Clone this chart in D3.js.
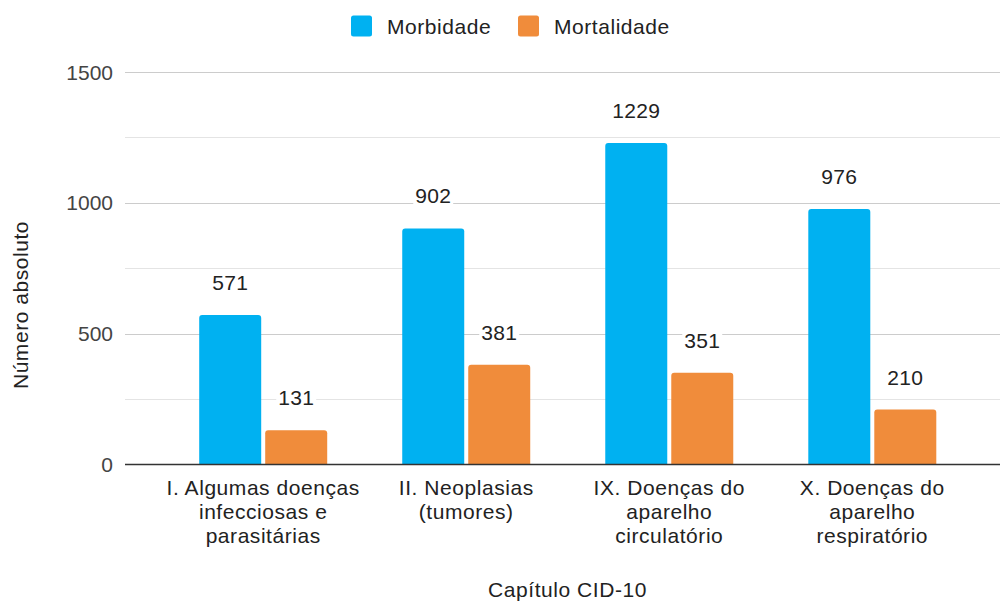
<!DOCTYPE html>
<html>
<head>
<meta charset="utf-8">
<script src="https://cdn.jsdelivr.net/npm/d3@7"></script>
<style>
  html, body { margin: 0; padding: 0; background: #fff; }
  svg { display: block; font-family: "Liberation Sans", Arial, sans-serif; }
</style>
</head>
<body>
<svg id="chart" width="1001" height="604"></svg>
<script>
// ---- Data ----
const categories = [
  ["I. Algumas doenças", "infecciosas e", "parasitárias"],
  ["II. Neoplasias", "(tumores)"],
  ["IX. Doenças do", "aparelho", "circulatório"],
  ["X. Doenças do", "aparelho", "respiratório"]
];
const categoryKeys = ["I", "II", "IX", "X"];
const seriesNames = ["Morbidade", "Mortalidade"];
const morbidade = [571, 902, 1229, 976];
const mortalidade = [131, 381, 351, 210];
const yTicks = [0, 500, 1000, 1500];
const yMinorTicks = [250, 750, 1250];
const colors = ["#00b1f1", "#f08c3b"];
const xTitle = "Capítulo CID-10";
const yTitle = "Número absoluto";

const seriesValues = [morbidade, mortalidade];

// ---- Layout ----
const svg = d3.select("#chart");
const plotLeft = 125, plotRight = 1000;
const FS = 21;
const LS = 0.55;
const y = d3.scaleLinear().domain([0, 1500]).range([464.5, 72]);

const x0 = d3.scaleBand().domain(categoryKeys).range([135.5, 1000]).paddingInner(0).paddingOuter(0.129);
const groupW = 128;
const x1 = d3.scaleBand().domain(seriesNames)
  .range([(x0.bandwidth() - groupW) / 2, (x0.bandwidth() + groupW) / 2])
  .paddingInner(0.0606);

// gridlines
svg.append("g").selectAll("line").data(yMinorTicks).join("line")
  .attr("x1", plotLeft).attr("x2", plotRight)
  .attr("y1", d => Math.round(y(d)) + 0.5).attr("y2", d => Math.round(y(d)) + 0.5)
  .attr("stroke", "#e4e4e4").attr("stroke-width", 1);
svg.append("g").selectAll("line").data(yTicks.filter(d => d !== 0)).join("line")
  .attr("x1", plotLeft).attr("x2", plotRight)
  .attr("y1", d => Math.round(y(d)) + 0.5).attr("y2", d => Math.round(y(d)) + 0.5)
  .attr("stroke", "#cccccc").attr("stroke-width", 1);

// y tick labels
svg.append("g").selectAll("text").data(yTicks).join("text")
  .attr("x", 113).attr("y", d => y(d))
  .attr("dy", "0.36em")
  .attr("text-anchor", "end")
  .attr("font-size", FS).attr("fill", "#444")
  .text(d => d);

// bars
function topRoundedRect(x, yTop, w, h, r) {
  r = Math.min(r, h, w / 2);
  return `M${x},${yTop + h}V${yTop + r}Q${x},${yTop} ${x + r},${yTop}H${x + w - r}Q${x + w},${yTop} ${x + w},${yTop + r}V${yTop + h}Z`;
}
const barData = [];
categoryKeys.forEach((k, i) => {
  seriesNames.forEach((s, j) => {
    barData.push({ cat: k, series: s, value: seriesValues[j][i], color: colors[j] });
  });
});
const gBars = svg.append("g");
gBars.selectAll("path").data(barData).join("path")
  .attr("d", d => {
    const bx = x0(d.cat) + x1(d.series);
    return topRoundedRect(bx, y(d.value), x1.bandwidth(), y(0) - y(d.value), 3);
  })
  .attr("fill", d => d.color);

// data labels with white background
const gLabels = svg.append("g");
barData.forEach(d => {
  const cx = x0(d.cat) + x1(d.series) + x1.bandwidth() / 2;
  const by = y(d.value) - 25;
  const t = gLabels.append("text")
    .attr("x", cx).attr("y", by)
    .attr("text-anchor", "middle")
    .attr("font-size", FS).attr("fill", "#222")
    .attr("letter-spacing", 0.3)
    .text(d.value);
  const bb = t.node().getBBox();
  gLabels.insert("rect", "text")
    .attr("x", bb.x - 2).attr("y", bb.y).attr("width", bb.width + 4).attr("height", bb.height)
    .attr("fill", "#fff");
});

// baseline
svg.append("line")
  .attr("x1", plotLeft).attr("x2", plotRight)
  .attr("y1", y(0)).attr("y2", y(0))
  .attr("stroke", "#333").attr("stroke-width", 1.6);

// category labels
const gCat = svg.append("g");
categories.forEach((lines, i) => {
  const cx = x0(categoryKeys[i]) + x0.bandwidth() / 2;
  const t = gCat.append("text")
    .attr("text-anchor", "middle")
    .attr("font-size", FS).attr("fill", "#222")
    .attr("letter-spacing", LS);
  lines.forEach((ln, li) => {
    t.append("tspan").attr("x", cx).attr("y", 495 + li * 24).text(ln);
  });
});

// axis titles
svg.append("text")
  .attr("x", 567.5).attr("y", 597)
  .attr("text-anchor", "middle")
  .attr("font-size", FS).attr("fill", "#222")
  .attr("letter-spacing", LS)
  .text(xTitle);
svg.append("text")
  .attr("transform", "translate(28,305) rotate(-90)")
  .attr("text-anchor", "middle")
  .attr("font-size", FS).attr("fill", "#222")
  .attr("letter-spacing", LS)
  .text(yTitle);

// legend
const legendItems = [
  { name: seriesNames[0], color: colors[0], x: 351, tx: 387 },
  { name: seriesNames[1], color: colors[1], x: 518, tx: 554 }
];
const gLeg = svg.append("g");
legendItems.forEach(it => {
  gLeg.append("rect")
    .attr("x", it.x).attr("y", 15.5).attr("width", 21).attr("height", 21)
    .attr("rx", 2.5).attr("fill", it.color);
  gLeg.append("text")
    .attr("x", it.tx).attr("y", 26)
    .attr("dy", "0.36em")
    .attr("font-size", FS).attr("fill", "#222")
    .attr("letter-spacing", LS)
    .text(it.name);
});
</script>
</body>
</html>
